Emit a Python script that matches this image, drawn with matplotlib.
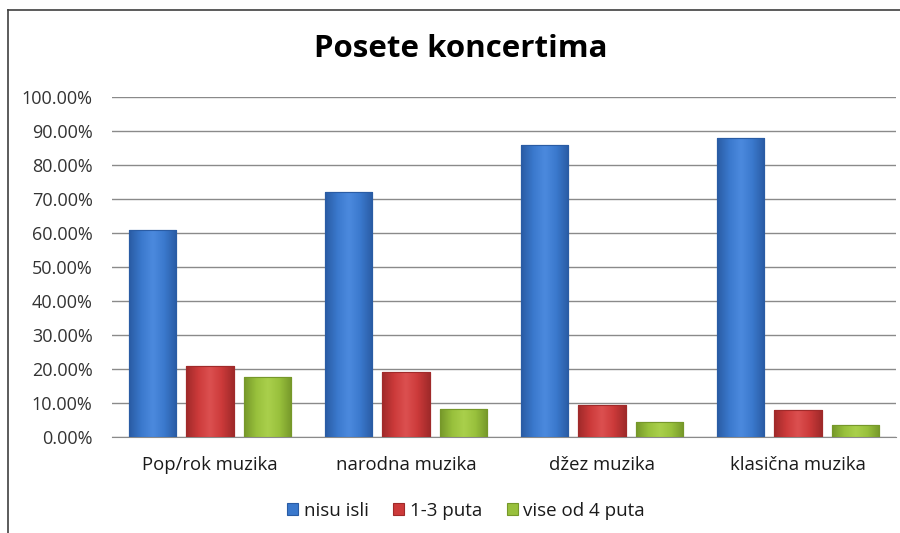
import matplotlib
matplotlib.use("Agg")
import matplotlib.pyplot as plt
import numpy as np
from matplotlib.lines import Line2D
from matplotlib.colors import LinearSegmentedColormap

categories = ["Pop/rok muzika", "narodna muzika", "džez muzika", "klasična muzika"]
series_names = ["nisu isli", "1-3 puta", "vise od 4 puta"]
nisu_isli = [61.0, 72.0, 86.0, 88.0]
puta_1_3 = [21.0, 19.2, 9.3, 7.9]
vise_od_4 = [17.6, 8.2, 4.5, 3.5]
yticks = [0, 10, 20, 30, 40, 50, 60, 70, 80, 90, 100]
ytick_labels = ["0.00%", "10.00%", "20.00%", "30.00%", "40.00%", "50.00%",
                "60.00%", "70.00%", "80.00%", "90.00%", "100.00%"]

colors = ["#3a78cc", "#cc3a3a", "#98c03c"]
dark = ["#2a5ca4", "#a02a2a", "#76982a"]
light = ["#4c8ade", "#dc5050", "#aad04c"]

plt.rcParams['font.family'] = ['Open Sans', 'DejaVu Sans']

fig = plt.figure(figsize=(9, 5.33), dpi=100)
ax = fig.add_axes([112/900, (533-437)/533, (896-112)/900, (437-97)/533])

x = np.arange(len(categories))
offsets = [-0.293, 0.0, 0.293]
width = 0.24
all_series = [nisu_isli, puta_1_3, vise_od_4]
bar_groups = []
for s, vals in enumerate(all_series):
    bars = ax.bar(x + offsets[s], vals, width, color=colors[s], edgecolor=dark[s],
                  linewidth=0.8, zorder=3, label=series_names[s])
    bar_groups.append(bars)

# soft horizontal gradient inside each bar
for s, bars in enumerate(bar_groups):
    cmap = LinearSegmentedColormap.from_list("g", [dark[s], colors[s], light[s], colors[s], dark[s]])
    grad = np.linspace(0, 1, 64).reshape(1, -1)
    for b in bars:
        x0, y0 = b.get_x(), b.get_y()
        w, h = b.get_width(), b.get_height()
        im = ax.imshow(grad, cmap=cmap, extent=[x0, x0 + w, y0, y0 + h],
                       aspect='auto', zorder=3.5, interpolation='bicubic')
        im.set_clip_path(b)
        ax.add_patch(plt.Rectangle((x0, y0), w, h, fill=False, edgecolor=dark[s],
                                   linewidth=0.8, zorder=4))

ax.set_xlim(-0.5, 3.5)
ax.set_ylim(0, 100)
ax.set_yticks(yticks)
ax.set_yticklabels(ytick_labels, fontsize=13, color="#333333")
ax.set_xticks(x)
ax.set_xticklabels(categories, fontsize=13.3, color="#1a1a1a")
ax.tick_params(axis='y', length=0, pad=14)
ax.tick_params(axis='x', length=0, pad=14)
ax.yaxis.grid(True, color="#8a8a8a", linewidth=1.0, zorder=0)
ax.set_axisbelow(True)
for sp in ["top", "right", "left"]:
    ax.spines[sp].set_visible(False)
ax.spines["bottom"].set_color("#8a8a8a")

fig.text(461/900, 1 - 49/533, "Posete koncertima", ha="center", va="center",
         fontsize=22.5, fontweight="bold", color="black")

leg = fig.legend(handles=[b[0] for b in bar_groups], labels=series_names,
                 loc="center", bbox_to_anchor=(466/900, 1 - 511/533), ncol=3,
                 frameon=False, fontsize=13.5, handlelength=0.6, handleheight=0.6,
                 handletextpad=0.3, columnspacing=1.3, labelcolor="#1a1a1a")

# outer chart frame (cropped on right and bottom)
fig.add_artist(Line2D([8/900, 8/900], [0, 1 - 10/533], color="#404040", linewidth=1.2,
                      transform=fig.transFigure))
fig.add_artist(Line2D([8/900, 1], [1 - 10/533, 1 - 10/533], color="#404040", linewidth=1.2,
                      transform=fig.transFigure))

fig.savefig("out.png", dpi=100)
